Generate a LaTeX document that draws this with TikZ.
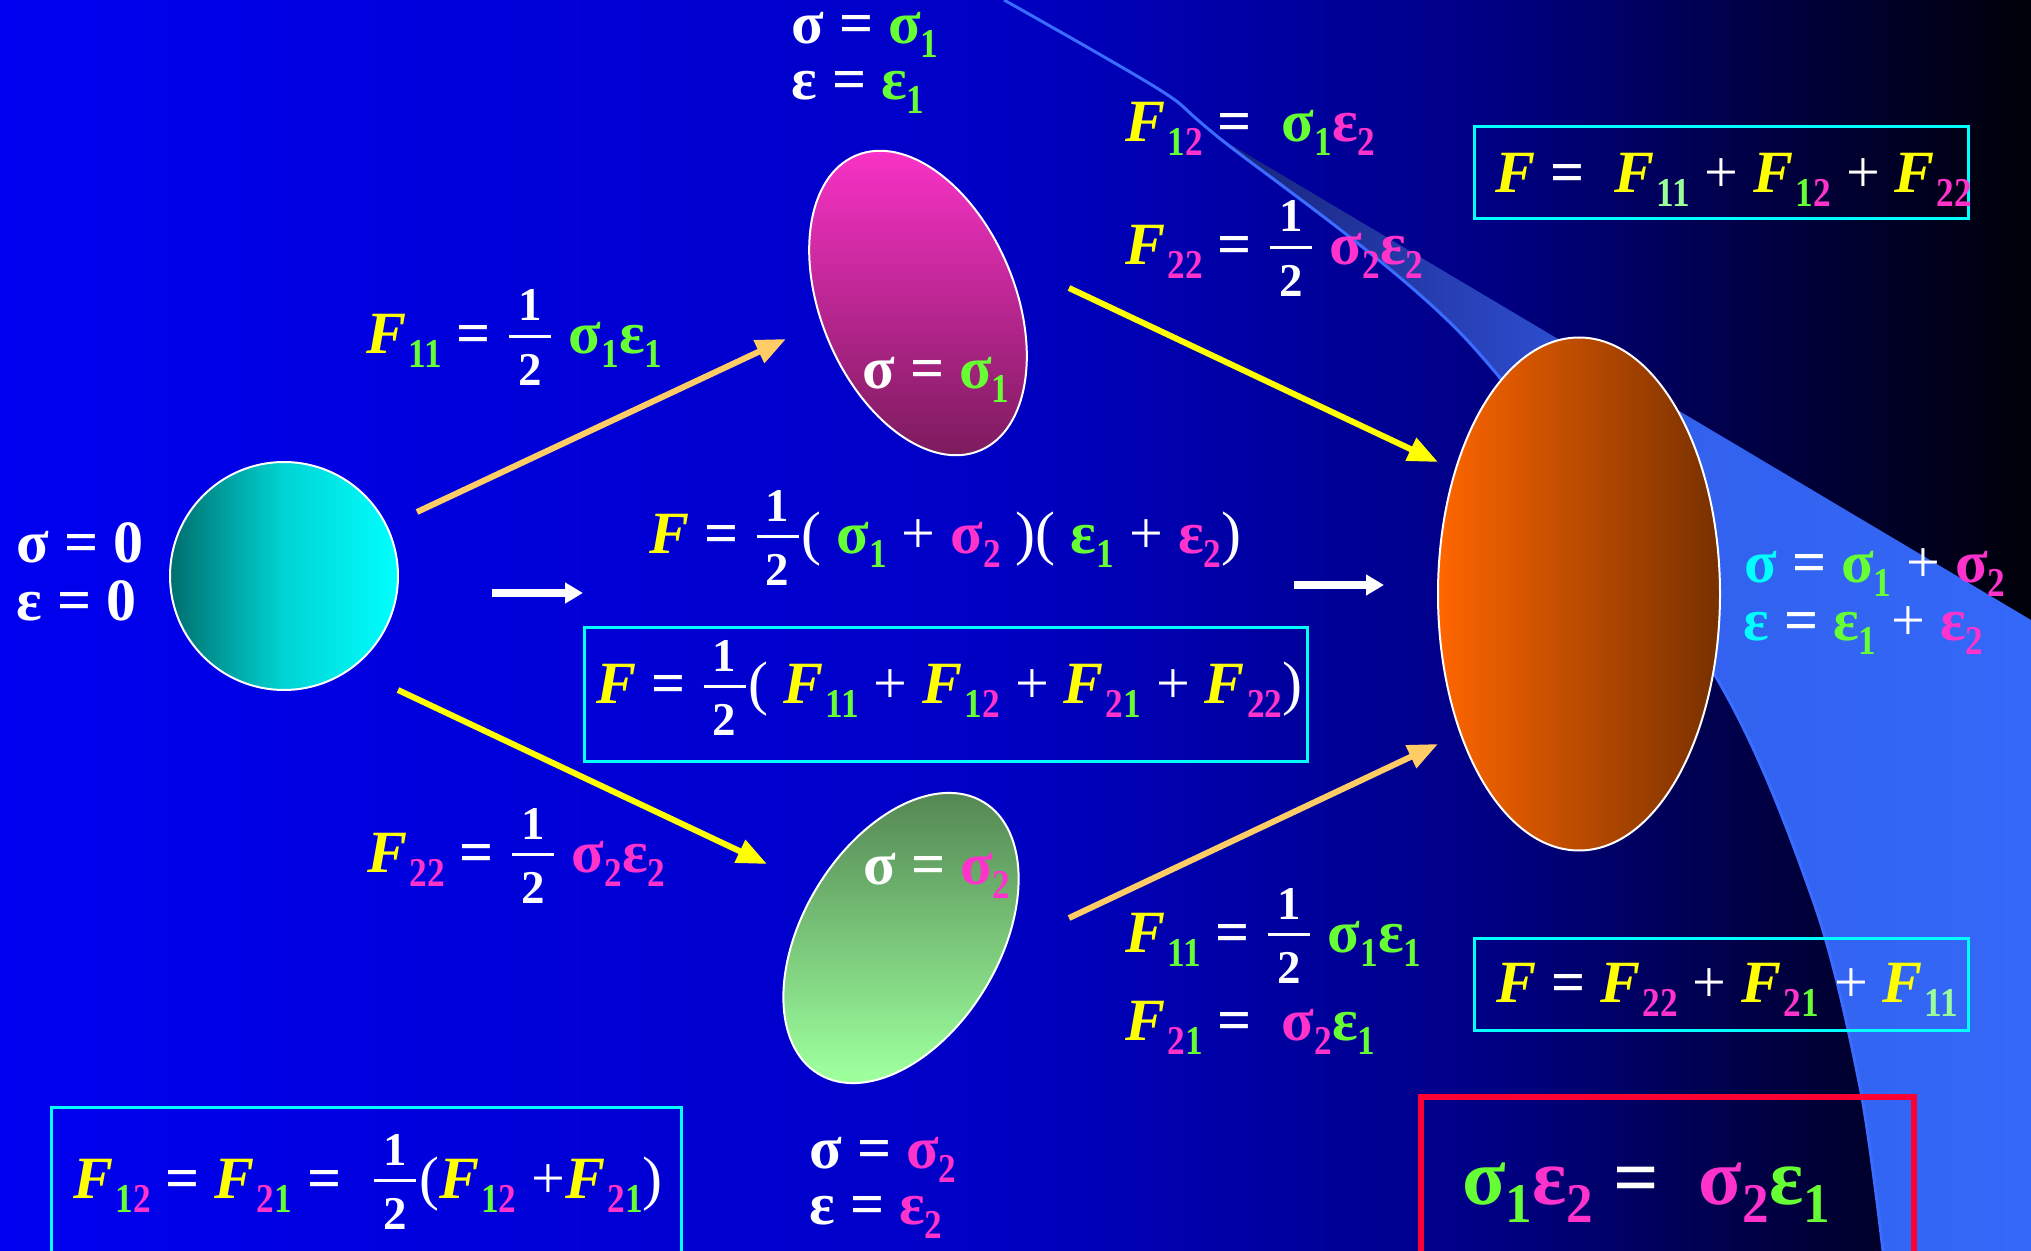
\documentclass[tikz,border=0pt]{standalone}
\usepackage{fontspec}
\setmainfont{Liberation Serif}
\usetikzlibrary{arrows.meta,shapes.geometric}
\definecolor{ye}{HTML}{FFFF00}
\definecolor{gr}{HTML}{66FF33}
\definecolor{mg}{HTML}{FF33CC}
\definecolor{cy}{HTML}{00FFFF}
\definecolor{lg}{HTML}{99FF99}
\definecolor{redbox}{HTML}{FF0033}
\definecolor{arrorange}{HTML}{FFCC66}
\definecolor{bandline}{HTML}{3A6CFF}
\definecolor{bgA}{HTML}{0000F0}
\definecolor{bgB}{HTML}{0000C4}
\definecolor{bgC}{HTML}{000082}
\definecolor{bgD}{HTML}{000050}
\definecolor{bgE}{HTML}{000008}
\definecolor{bdA}{HTML}{18237A}
\definecolor{bdB}{HTML}{2A45C0}
\definecolor{bdC}{HTML}{3262EE}
\definecolor{bdD}{HTML}{3468F8}
\definecolor{cirL}{HTML}{006E6E}
\definecolor{cirM}{HTML}{00D4D4}
\definecolor{magT}{HTML}{FF33CC}
\definecolor{magB}{HTML}{761A58}
\definecolor{grnT}{HTML}{4F7F4F}
\definecolor{grnB}{HTML}{9CFF9C}
\definecolor{orL}{HTML}{FF6600}
\definecolor{orR}{HTML}{773000}
\pgfdeclarehorizontalshading{bgshade}{100bp}{color(0bp)=(bgA); color(25bp)=(bgA); color(49.6bp)=(bgB); color(62bp)=(bgC); color(67bp)=(bgD); color(75bp)=(bgE); color(100bp)=(bgE)}
\pgfdeclarehorizontalshading{bandshade}{100bp}{color(0bp)=(bdA); color(35.5bp)=(bdA); color(49bp)=(bdB); color(59bp)=(bdC); color(75bp)=(bdD); color(100bp)=(bdD)}
\newcommand\mainsize{\fontsize{30}{36}\selectfont}
\newcommand\subsize{\fontsize{20.5}{24}\selectfont}
\newcommand\fracsize{\fontsize{23.5}{28}\selectfont}
\newcommand\sublower{7pt}
\newcommand\subsquash{0.86}
\newcommand\sub[1]{\raisebox{-\sublower}{\scalebox{\subsquash}[1]{\subsize #1}}}
\newcommand\G[1]{\textcolor{gr}{#1}}
\newcommand\M[1]{\textcolor{mg}{#1}}
\newcommand\Fy{\textcolor{ye}{\itshape F}}
\newcommand\Fsub[1]{\Fy\kern1pt\sub{#1}}
\newcommand\pl{{\mdseries+}}
\newcommand\hfrac[2]{\mbox{\kern0.05em\rlap{\raisebox{0.55em}{\makebox[0.7em]{\fracsize #1}}}\rlap{\raisebox{-0.52em}{\makebox[0.7em]{\fracsize #2}}}\rule[0.27em]{0.7em}{0.05em}\kern0.05em}}
\begin{document}
\begin{tikzpicture}[x=0.5pt,y=-0.5pt,
  txt/.style={anchor=base west, inner sep=0pt, text=white, font=\mainsize\bfseries},
  arr/.style={line width=3pt, -{Triangle[length=15pt,width=12pt]}},
  warr/.style={line width=4pt, white, -{Triangle[length=9pt,width=10pt]}},
  cbox/.style={draw=cy, line width=1.5pt},
  ell/.style={draw=white, line width=1pt, ellipse, inner sep=0pt}]
\useasboundingbox (0,0) rectangle (2031,1251);
\clip (0,0) rectangle (2031,1251);
% background
\shade[shading=bgshade] (0,0) rectangle (2031,1251);
% light band
\begin{scope}
  \clip plot[smooth] coordinates {(1218,137) (1467,340) (1710,667) (1813,900) (1860,1087) (1883,1251)} -- (2031,1251) -- (2031,620) -- cycle;
  \shade[shading=bandshade] (1004,0) rectangle (2031,1251);
\end{scope}
\draw[bandline, line width=1.5pt] plot[smooth] coordinates {(1004,0) (1160,90) (1218,137) (1467,340) (1710,667) (1813,900) (1860,1087) (1883,1251)};
% ellipses
\node[ell, circle, minimum size=114pt, left color=cirL, right color=cy, middle color=cirM] (c0) at (284,576) {};
\node[ell, minimum width=97pt, minimum height=160pt, rotate=22.8, top color=magT, bottom color=magB] (e1) at (918,303) {};
\node[ell, minimum width=98pt, minimum height=159pt, rotate=-31.3, top color=grnT, bottom color=grnB] (e2) at (901,938) {};
\node[ell, minimum width=141pt, minimum height=256.5pt, left color=orL, right color=orR] (e3) at (1579,594) {};
% arrow ends
\coordinate (a1s) at (417,512); \coordinate (a1e) at (786,339);
\coordinate (a2s) at (398,690); \coordinate (a2e) at (767,864);
\coordinate (a3s) at (1069,288); \coordinate (a3e) at (1438,462);
\coordinate (a4s) at (1069,918); \coordinate (a4e) at (1438,744);
\coordinate (w1s) at (492,593); \coordinate (w1e) at (583,593);
\coordinate (w2s) at (1294,585); \coordinate (w2e) at (1384,585);
\draw[arr, arrorange] (a1s) -- (a1e);
\draw[arr, ye] (a2s) -- (a2e);
\draw[arr, ye] (a3s) -- (a3e);
\draw[arr, arrorange] (a4s) -- (a4e);
\draw[warr] (w1s) -- (w1e);
\draw[warr] (w2s) -- (w2e);
% boxes
\draw[cbox] (1474,127) rectangle (1968,219);
\draw[cbox] (584,628) rectangle (1307,761);
\draw[cbox] (1474,938) rectangle (1968,1030);
\draw[cbox] (51,1107) rectangle (681,1270);
\draw[redbox, line width=3pt] (1421,1097) rectangle (1914,1270);
% texts
\node[txt] (t1) at (791,44) {σ = \G{σ\sub{1}}};
\node[txt] (t2) at (791,100) {ε = \G{ε\sub{1}}};
\node[txt] (t3) at (366,354) {\Fsub{\G{11}} = \hfrac{1}{2} \G{σ\sub{1}ε\sub{1}}};
\node[txt] (t4) at (16,563) {σ = 0};
\node[txt] (t5) at (16,621) {ε = 0};
\node[txt] (t6) at (649,554) {\Fy{} = \hfrac12{\mdseries(} \G{σ\sub1} \pl{} \M{σ\sub2} {\mdseries)(} \G{ε\sub1} \pl{} \M{ε\sub2}{\mdseries)}};
\node[txt] (t7) at (862,389) {σ = \G{σ\sub1}};
\node[txt] (t8) at (1125,142) {\Fsub{\G1\M2} = \ \G{σ\sub1}\M{ε\sub2}};
\node[txt] (t9) at (1125,265) {\Fsub{\M{22}} = \hfrac12 \M{σ\sub2ε\sub2}};
\node[txt] (t10) at (1495,193) {\Fy{} = \ \Fsub{\textcolor{lg}{11}} \pl{} \Fsub{\G1\M2} \pl{} \Fsub{\M{22}}};
\node[txt] (t11) at (1744,582) {\textcolor{cy}{σ} = \G{σ\sub1} \pl{} \M{σ\sub2}};
\node[txt] (t12) at (1743,640) {\textcolor{cy}{ε} = \G{ε\sub1} \pl{} \M{ε\sub2}};
\node[txt] (t13) at (596,704) {\Fy{} = \hfrac12{\mdseries(} \Fsub{\G{11}} \pl{} \Fsub{\G1\M2} \pl{} \Fsub{\M2\G1} \pl{} \Fsub{\M{22}}{\mdseries)}};
\node[txt] (t14) at (367,872) {\Fsub{\M{22}} = \hfrac12 \M{σ\sub2ε\sub2}};
\node[txt] (t15) at (863,884) {σ = \M{σ\sub2}};
\node[txt] (t16) at (1125,952) {\Fsub{\G{11}} = \hfrac12 \G{σ\sub1ε\sub1}};
\node[txt] (t17) at (1125,1040) {\Fsub{\M2\G1} = \ \M{σ\sub2}\G{ε\sub1}};
\node[txt] (t18) at (1496,1002) {\Fy{} = \Fsub{\M{22}} \pl{} \Fsub{\M2\G1} \pl{} \Fsub{\textcolor{lg}{11}}};
\node[txt, font=\fontsize{40}{44}\selectfont\bfseries] (t19) at (1462,1204) {\renewcommand\subsize{\fontsize{28}{32}\selectfont}\renewcommand\sublower{9pt}\renewcommand\subsquash{0.95}\G{σ\sub1}\M{ε\sub2} = \ \M{σ\sub2}\G{ε\sub1}};
\node[txt] (t20) at (73,1198) {\Fsub{\G1\M2} = \Fsub{\M2\G1} = \ \hfrac12{\mdseries(}\Fsub{\G1\M2} \pl\Fsub{\M2\G1}{\mdseries)}};
\node[txt] (t21) at (809,1168) {σ = \M{σ\sub2}};
\node[txt] (t22) at (809,1224) {ε = \M{ε\sub2}};
\end{tikzpicture}
\end{document}
